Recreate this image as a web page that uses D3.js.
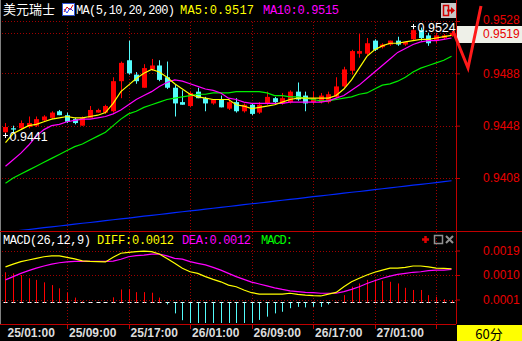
<!DOCTYPE html>
<html>
<head>
<meta charset="utf-8">
<script src="https://cdn.jsdelivr.net/npm/d3@7"></script>
<style>
  html, body { margin: 0; padding: 0; background: #000; overflow: hidden; }
  svg { display: block; }
</style>
</head>
<body>
<div id="chart"></div>
<script>
// ---- data (USD/CHF, 60 minute bars) ----
const symbolName = '美元瑞士';
const tickLabels = ['25/01:00', '25/09:00', '25/17:00', '26/01:00', '26/09:00', '26/17:00', '27/01:00'];
const tickEvery = 8;

const opens = [
  0.9443, 0.9446, 0.9446, 0.9447, 0.9448, 0.9452, 0.9454, 0.9459, 0.9456, 0.9453,
  0.9448, 0.9454, 0.9458, 0.9458, 0.9459, 0.9482, 0.9498, 0.9487, 0.9477, 0.9491,
  0.9494, 0.9485, 0.9477, 0.9466, 0.9463, 0.9474, 0.9469, 0.9465, 0.9468, 0.9461,
  0.9466, 0.9459, 0.9464, 0.9458, 0.9465, 0.9469, 0.9465, 0.9466, 0.9474, 0.9471,
  0.9466, 0.9466, 0.9466, 0.9470, 0.9478, 0.9490, 0.9503, 0.9503, 0.9513, 0.9508,
  0.9510, 0.9513, 0.9510, 0.9514, 0.9521, 0.9517, 0.9513, 0.9515, 0.9517
];
const highs = [
  0.9450, 0.9448, 0.9452, 0.9455, 0.9455, 0.9456, 0.9459, 0.9460, 0.9458, 0.9454,
  0.9455, 0.9463, 0.9461, 0.9464, 0.9485, 0.9497, 0.9513, 0.9489, 0.9495, 0.9499,
  0.9498, 0.9497, 0.9479, 0.9475, 0.9474, 0.9477, 0.9470, 0.9468, 0.9471, 0.9468,
  0.9469, 0.9465, 0.9465, 0.9466, 0.9474, 0.9470, 0.9473, 0.9475, 0.9481, 0.9474,
  0.9474, 0.9473, 0.9474, 0.9485, 0.9493, 0.9506, 0.9518, 0.9515, 0.9514, 0.9511,
  0.9513, 0.9516, 0.9512, 0.9524, 0.9523, 0.9519, 0.9519, 0.9518, 0.9520
];
const lows = [
  0.9441, 0.9443, 0.9445, 0.9446, 0.9447, 0.9451, 0.9453, 0.9456, 0.9450, 0.9449,
  0.9448, 0.9454, 0.9458, 0.9457, 0.9458, 0.9469, 0.9487, 0.9480, 0.9477, 0.9490,
  0.9482, 0.9476, 0.9455, 0.9464, 0.9462, 0.9469, 0.9459, 0.9464, 0.9462, 0.9460,
  0.9458, 0.9458, 0.9456, 0.9457, 0.9464, 0.9465, 0.9464, 0.9465, 0.9467, 0.9459,
  0.9464, 0.9465, 0.9465, 0.9469, 0.9477, 0.9487, 0.9500, 0.9502, 0.9505, 0.9507,
  0.9509, 0.9509, 0.9509, 0.9513, 0.9513, 0.9509, 0.9511, 0.9514, 0.9516
];
const closes = [
  0.9447, 0.9445, 0.9450, 0.9450, 0.9453, 0.9455, 0.9458, 0.9456, 0.9451, 0.9450,
  0.9454, 0.9460, 0.9460, 0.9463, 0.9482, 0.9496, 0.9488, 0.9482, 0.9492, 0.9494,
  0.9483, 0.9477, 0.9465, 0.9464, 0.9473, 0.9469, 0.9465, 0.9468, 0.9462, 0.9466,
  0.9459, 0.9464, 0.9457, 0.9464, 0.9470, 0.9466, 0.9469, 0.9474, 0.9468, 0.9465,
  0.9469, 0.9471, 0.9472, 0.9478, 0.9491, 0.9505, 0.9505, 0.9511, 0.9506, 0.9510,
  0.9513, 0.9510, 0.9512, 0.9521, 0.9515, 0.9511, 0.9517, 0.9517, 0.9519
];

const ma5 = [
  0.9435, 0.9442, 0.9445, 0.9448, 0.9449, 0.9451, 0.9453, 0.9454, 0.9455, 0.9454,
  0.9454, 0.9455, 0.9456, 0.9458, 0.9465, 0.9474, 0.9479, 0.9484, 0.9488, 0.9491,
  0.9489, 0.9485, 0.9480, 0.9476, 0.9472, 0.9470, 0.9469, 0.9468, 0.9468, 0.9468,
  0.9464, 0.9463, 0.9461, 0.9462, 0.9463, 0.9464, 0.9466, 0.9468, 0.9469, 0.9469,
  0.9469, 0.9469, 0.9469, 0.9471, 0.9476, 0.9483, 0.9492, 0.9501, 0.9506, 0.9509,
  0.9511, 0.9511, 0.9512, 0.9513, 0.9514, 0.9514, 0.9515, 0.9516, 0.9517
];
const ma10 = [
  0.9417, 0.9422, 0.9427, 0.9433, 0.9440, 0.9445, 0.9448, 0.9449, 0.9451, 0.9452,
  0.9453, 0.9453, 0.9454, 0.9455, 0.9457, 0.9460, 0.9464, 0.9468, 0.9471, 0.9474,
  0.9478, 0.9481, 0.9483, 0.9482, 0.9480, 0.9478, 0.9476, 0.9475, 0.9473, 0.9469,
  0.9468, 0.9466, 0.9465, 0.9465, 0.9465, 0.9465, 0.9465, 0.9466, 0.9466, 0.9466,
  0.9466, 0.9466, 0.9467, 0.9469, 0.9471, 0.9475, 0.9479, 0.9484, 0.9489, 0.9494,
  0.9499, 0.9504, 0.9507, 0.9510, 0.9512, 0.9513, 0.9513, 0.9514, 0.9515
];
const ma20 = [
  0.9404, 0.9408, 0.9411, 0.9414, 0.9417, 0.9420, 0.9423, 0.9426, 0.9429, 0.9432,
  0.9434, 0.9437, 0.9440, 0.9443, 0.9448, 0.9453, 0.9457, 0.9459, 0.9462, 0.9464,
  0.9466, 0.9468, 0.9469, 0.9470, 0.9471, 0.9472, 0.9472, 0.9473, 0.9473, 0.9473,
  0.9474, 0.9474, 0.9474, 0.9474, 0.9473, 0.9471, 0.9471, 0.9470, 0.9470, 0.9469,
  0.9468, 0.9467, 0.9467, 0.9468, 0.9469, 0.9470, 0.9472, 0.9473, 0.9476, 0.9479,
  0.9480, 0.9482, 0.9485, 0.9489, 0.9492, 0.9494, 0.9496, 0.9498, 0.9501
];
const ma200 = [
  0.93666, 0.93673, 0.93680, 0.93686, 0.93693, 0.93700, 0.93707, 0.93713, 0.93720, 0.93727,
  0.93734, 0.93740, 0.93747, 0.93754, 0.93761, 0.93768, 0.93774, 0.93781, 0.93788, 0.93795,
  0.93801, 0.93808, 0.93815, 0.93822, 0.93828, 0.93835, 0.93842, 0.93849, 0.93856, 0.93862,
  0.93869, 0.93876, 0.93883, 0.93889, 0.93896, 0.93903, 0.93910, 0.93916, 0.93923, 0.93930,
  0.93937, 0.93944, 0.93950, 0.93957, 0.93964, 0.93971, 0.93977, 0.93984, 0.93991, 0.93998,
  0.94004, 0.94011, 0.94018, 0.94025, 0.94032, 0.94038, 0.94045, 0.94052, 0.94059
];

const diff = [
  0.00130, 0.00140, 0.00149, 0.00155, 0.00161, 0.00167, 0.00170, 0.00170, 0.00165, 0.00159,
  0.00152, 0.00150, 0.00149, 0.00148, 0.00165, 0.00180, 0.00183, 0.00186, 0.00188, 0.00186,
  0.00177, 0.00161, 0.00143, 0.00125, 0.00112, 0.00106, 0.00094, 0.00084, 0.00075, 0.00063,
  0.00057, 0.00045, 0.00035, 0.00030, 0.00030, 0.00030, 0.00030, 0.00033, 0.00029, 0.00026,
  0.00024, 0.00023, 0.00030, 0.00036, 0.00057, 0.00075, 0.00088, 0.00100, 0.00110, 0.00118,
  0.00125, 0.00125, 0.00128, 0.00133, 0.00133, 0.00130, 0.00125, 0.00124, 0.00123
];
const dea = [
  0.00082, 0.00094, 0.00106, 0.00116, 0.00125, 0.00133, 0.00140, 0.00145, 0.00148, 0.00150,
  0.00150, 0.00150, 0.00150, 0.00150, 0.00151, 0.00158, 0.00167, 0.00171, 0.00173, 0.00177,
  0.00177, 0.00170, 0.00161, 0.00158, 0.00149, 0.00143, 0.00137, 0.00128, 0.00118, 0.00106,
  0.00094, 0.00084, 0.00074, 0.00067, 0.00060, 0.00053, 0.00047, 0.00042, 0.00039, 0.00036,
  0.00035, 0.00033, 0.00033, 0.00033, 0.00039, 0.00047, 0.00057, 0.00069, 0.00079, 0.00088,
  0.00096, 0.00102, 0.00106, 0.00110, 0.00112, 0.00116, 0.00118, 0.00118, 0.00121
];
const macdBars = [
  0.00110, 0.00106, 0.00100, 0.00088, 0.00082, 0.00073, 0.00063, 0.00051, 0.00035, 0.00017,
  0.00004, 0.00000, -0.00001, -0.00001, 0.00018, 0.00047, 0.00048, 0.00037, 0.00037, 0.00035,
  0.00017, -0.00008, -0.00041, -0.00066, -0.00080, -0.00088, -0.00092, -0.00094, -0.00095, -0.00092,
  -0.00088, -0.00082, -0.00078, -0.00065, -0.00053, -0.00041, -0.00035, -0.00022, -0.00017, -0.00019,
  -0.00017, -0.00017, -0.00008, 0.00002, 0.00026, 0.00057, 0.00069, 0.00082, 0.00084, 0.00079,
  0.00075, 0.00069, 0.00053, 0.00045, 0.00045, 0.00026, 0.00020, 0.00011, 0.00008
];

const priceTicks = [0.9528, 0.9488, 0.9448, 0.9408];
const macdTicks = [0.0019, 0.0010, 0.0001];

// ---- layout ----
const width = 522, height = 341;
const axisX = 456;
const RED = '#ff0000', CYAN = '#54fcfc', GRID = '#a00000';
const MONO = '"Liberation Mono", "DejaVu Sans Mono", monospace';
const SANS = '"Liberation Sans", Arial, sans-serif';

const svg = d3.select('#chart')
  .append('svg')
  .attr('width', width)
  .attr('height', height)
  .style('background', '#000');

const n = closes.length;
const x = d3.scaleBand().domain(d3.range(n)).range([1.65, 455.35]);
const cx = i => x(i) + x.bandwidth() / 2;
const px = i => Math.round(cx(i)) + 0.5;
const y = d3.scaleLinear().domain([0.9408, 0.9528]).range([178, 21]);
const ym = d3.scaleLinear().domain([0.0001, 0.0019]).range([299.5, 250.5]);

const defs = svg.append('defs');
defs.append('clipPath').attr('id', 'clipMain')
  .append('rect').attr('x', 2).attr('y', 14).attr('width', axisX - 2).attr('height', 216);
defs.append('clipPath').attr('id', 'clipMacd')
  .append('rect').attr('x', 2).attr('y', 232).attr('width', axisX - 2).attr('height', 91);

// ---- grid ----
const grid = svg.append('g')
  .attr('stroke', GRID)
  .attr('stroke-dasharray', '1,2')
  .attr('shape-rendering', 'crispEdges');

grid.selectAll('.hgrid')
  .data(priceTicks)
  .enter().append('line')
  .attr('x1', 2).attr('x2', axisX)
  .attr('y1', d => Math.round(y(d)) + 0.5)
  .attr('y2', d => Math.round(y(d)) + 0.5);

grid.selectAll('.mgrid')
  .data(macdTicks)
  .enter().append('line')
  .attr('x1', 2).attr('x2', axisX)
  .attr('y1', d => Math.round(ym(d)) + 0.5)
  .attr('y2', d => Math.round(ym(d)) + 0.5);

const tickIdx = d3.range(tickEvery, n, tickEvery);
grid.selectAll('.vgrid')
  .data(tickIdx)
  .enter().append('line')
  .attr('x1', px).attr('x2', px)
  .attr('y1', 22).attr('y2', 324);

// current price dotted line
grid.append('line')
  .attr('x1', 2).attr('x2', axisX)
  .attr('y1', Math.round(y(closes[n - 1])) + 0.5)
  .attr('y2', Math.round(y(closes[n - 1])) + 0.5);

// ---- frame ----
const frame = svg.append('g').attr('shape-rendering', 'crispEdges');
frame.append('line').attr('x1', 0.5).attr('x2', 0.5).attr('y1', 0).attr('y2', 324)
  .attr('stroke', '#808080');
frame.append('line').attr('x1', axisX + 0.5).attr('x2', axisX + 0.5).attr('y1', 0).attr('y2', 324)
  .attr('stroke', '#c00000');
frame.append('line').attr('x1', 0).attr('x2', width).attr('y1', 231.5).attr('y2', 231.5)
  .attr('stroke', '#c00000');
frame.append('line').attr('x1', 0).attr('x2', axisX).attr('y1', 324.5).attr('y2', 324.5)
  .attr('stroke', '#c00000');

// ---- candles ----
const main = svg.append('g').attr('clip-path', 'url(#clipMain)');
const isUp = i => closes[i] >= opens[i];

main.selectAll('.wick')
  .data(d3.range(n))
  .enter().append('line')
  .attr('x1', px).attr('x2', px)
  .attr('y1', i => y(highs[i]))
  .attr('y2', i => y(lows[i]))
  .attr('stroke', i => isUp(i) ? RED : CYAN)
  .attr('stroke-width', 1);

main.selectAll('.body')
  .data(d3.range(n))
  .enter().append('rect')
  .attr('x', i => Math.round(cx(i)) - 2)
  .attr('width', 5)
  .attr('y', i => y(Math.max(opens[i], closes[i])))
  .attr('height', i => Math.max(1, Math.abs(y(opens[i]) - y(closes[i]))))
  .attr('fill', i => isUp(i) ? RED : CYAN);

// ---- moving averages ----
const maLine = d3.line().x((d, i) => cx(i)).y(d => y(d));
[[ma200, '#0028ff'], [ma20, '#00ee00'], [ma10, '#ff00ff'], [ma5, '#ffff00']].forEach(([vals, col]) => {
  main.append('path')
    .datum(vals)
    .attr('d', maLine)
    .attr('fill', 'none')
    .attr('stroke', col)
    .attr('stroke-width', 1.2);
});

// high / low markers
function extremeMark(i, val) {
  const g = svg.append('g');
  const mx = Math.round(cx(i)) + 0.5, my = Math.round(y(val)) + 0.5;
  g.append('path')
    .attr('d', `M${mx - 2.5},${my}H${mx + 2.5}M${mx},${my - 2.5}V${my + 2.5}`)
    .attr('stroke', '#fff').attr('stroke-width', 1);
  g.append('text')
    .attr('x', mx + 4).attr('y', my + 5.5)
    .attr('font-family', SANS).attr('font-size', 12.5)
    .attr('fill', '#fff')
    .text(val.toFixed(4));
}
const hiIdx = d3.maxIndex(highs), loIdx = d3.minIndex(lows);
extremeMark(hiIdx, highs[hiIdx]);
extremeMark(loIdx, lows[loIdx]);

// ---- MACD panel ----
const macdG = svg.append('g').attr('clip-path', 'url(#clipMacd)');
const zeroY = Math.round(ym(0)) + 0.5;

macdG.selectAll('.zero')
  .data(d3.range(n))
  .enter().append('line')
  .attr('x1', i => px(i) - 2).attr('x2', i => px(i) + 2)
  .attr('y1', zeroY).attr('y2', zeroY)
  .attr('stroke', '#fff');

macdG.selectAll('.bar')
  .data(d3.range(n))
  .enter().append('line')
  .attr('x1', px).attr('x2', px)
  .attr('y1', zeroY)
  .attr('y2', i => ym(macdBars[i]))
  .attr('stroke', i => macdBars[i] >= 0 ? RED : CYAN)
  .attr('stroke-width', 1);

[[dea, '#ff00ff'], [diff, '#ffff00']].forEach(([vals, col]) => {
  macdG.append('path')
    .datum(vals)
    .attr('d', d3.line().x((d, i) => cx(i)).y(d => ym(d)))
    .attr('fill', 'none')
    .attr('stroke', col)
    .attr('stroke-width', 1.2);
});

// ---- right axes ----
const lastY = y(closes[n - 1]);
svg.append('rect')
  .attr('x', axisX + 1).attr('y', Math.round(lastY) - 7)
  .attr('width', width - axisX - 1).attr('height', 17)
  .attr('fill', '#eef0e8');

const yAxis = svg.append('g')
  .attr('transform', `translate(${axisX},0)`)
  .call(d3.axisRight(y).tickValues(priceTicks).tickSize(4).tickPadding(23).tickFormat(d3.format('.4f')));
const mAxis = svg.append('g')
  .attr('transform', `translate(${axisX},0)`)
  .call(d3.axisRight(ym).tickValues(macdTicks).tickSize(4).tickPadding(23).tickFormat(d3.format('.4f')));
[yAxis, mAxis].forEach(a => {
  a.select('.domain').remove();
  a.selectAll('line').attr('stroke', '#c00000');
  a.selectAll('text').attr('fill', '#e80000').attr('font-family', SANS).attr('font-size', 12);
});
// top label sits just above the current price box
yAxis.selectAll('text').filter(d => d === priceTicks[0]).attr('dy', '0.2em');

svg.append('text')
  .attr('x', axisX + 27).attr('y', lastY + 5)
  .attr('font-family', SANS).attr('font-size', 12)
  .attr('fill', '#e80000')
  .text(closes[n - 1].toFixed(4));

// ---- bottom time axis ----
const tAxis = svg.append('g').attr('shape-rendering', 'crispEdges');
tAxis.selectAll('.tick')
  .data(tickIdx)
  .enter().append('line')
  .attr('x1', px).attr('x2', px)
  .attr('y1', 325).attr('y2', 329)
  .attr('stroke', '#c00000');
svg.selectAll('.tlabel')
  .data(tickLabels)
  .enter().append('text')
  .attr('x', (d, k) => cx(k * tickEvery) + 2)
  .attr('y', 337)
  .attr('font-family', SANS).attr('font-size', 12).attr('font-weight', 'bold')
  .attr('fill', '#dcdcdc')
  .text(d => d);

svg.append('rect')
  .attr('x', axisX + 1).attr('y', 325).attr('width', width - axisX - 1).attr('height', 16)
  .attr('fill', '#ffff00');
svg.append('text')
  .attr('x', 489).attr('y', 338.5)
  .attr('text-anchor', 'middle')
  .attr('font-family', '"Noto Sans CJK SC", sans-serif').attr('font-size', 13)
  .attr('fill', '#000')
  .text('60分');

// ---- legends ----
function legend(txt, xs, len, yy, col, fam, size) {
  const t = svg.append('text')
    .attr('x', xs).attr('y', yy)
    .attr('font-family', fam).attr('font-size', size)
    .attr('fill', col)
    .text(txt);
  if (len) t.attr('textLength', len).attr('lengthAdjust', 'spacing');
}
legend(symbolName, 3, 52, 14, '#fff', '"Noto Sans CJK SC", sans-serif', 13);
legend('MA(5,10,20,200)', 76, 99, 14, '#fff', MONO, 12);
legend('MA5:' + ma5[n - 1].toFixed(4), 180, 74, 14, '#ffff00', MONO, 12);
legend('MA10:' + ma10[n - 1].toFixed(4), 263, 76, 14, '#ff00ff', MONO, 12);

legend('MACD(26,12,9)', 3, 88, 244, '#fff', MONO, 12);
legend('DIFF:' + diff[n - 1].toFixed(4), 97, 77, 244, '#ffff00', MONO, 12);
legend('DEA:' + dea[n - 1].toFixed(4), 182, 69, 244, '#ff00ff', MONO, 12);
legend('MACD:', 261, 32, 244, '#00ff00', MONO, 12);

// MA legend icon
const icon = svg.append('g');
icon.append('rect').attr('x', 62.5).attr('y', 3.5).attr('width', 12).attr('height', 12)
  .attr('fill', '#fff').attr('stroke', '#3050d0');
icon.append('polyline').attr('points', '64,12 67,7 70,10 73,5')
  .attr('fill', 'none').attr('stroke', '#e00000');
icon.append('polyline').attr('points', '64,9 67,13 70,8 73,11')
  .attr('fill', 'none').attr('stroke', '#2040ff');

// exit icon top right
const exitIcon = svg.append('g');
exitIcon.append('rect').attr('x', 441).attr('y', 3).attr('width', 15).attr('height', 15).attr('fill', '#c8c8c8');
exitIcon.append('rect').attr('x', 443.5).attr('y', 5.5).attr('width', 5).attr('height', 10)
  .attr('fill', 'none').attr('stroke', '#d00000').attr('stroke-width', 1.5);
exitIcon.append('path').attr('d', 'M447,9.5H451V7L455,10.5L451,14V11.5H447Z').attr('fill', '#d00000');

// MACD panel icons
const pIcons = svg.append('g');
pIcons.append('path').attr('d', 'M422,239.5H429M425.5,236V243').attr('stroke', '#e00000').attr('stroke-width', 2.5);
pIcons.append('rect').attr('x', 434.5).attr('y', 235.5).attr('width', 8).attr('height', 8)
  .attr('fill', 'none').attr('stroke', '#909090').attr('stroke-width', 1.5);
pIcons.append('path').attr('d', 'M446,236L453,243M453,236L446,243').attr('stroke', '#909090').attr('stroke-width', 2);

// red check-mark decoration over the axis
svg.append('polyline')
  .attr('points', '453,31 468,68 481,6')
  .attr('fill', 'none')
  .attr('stroke', '#ff1a1a')
  .attr('stroke-width', 3);
</script>
</body>
</html>
